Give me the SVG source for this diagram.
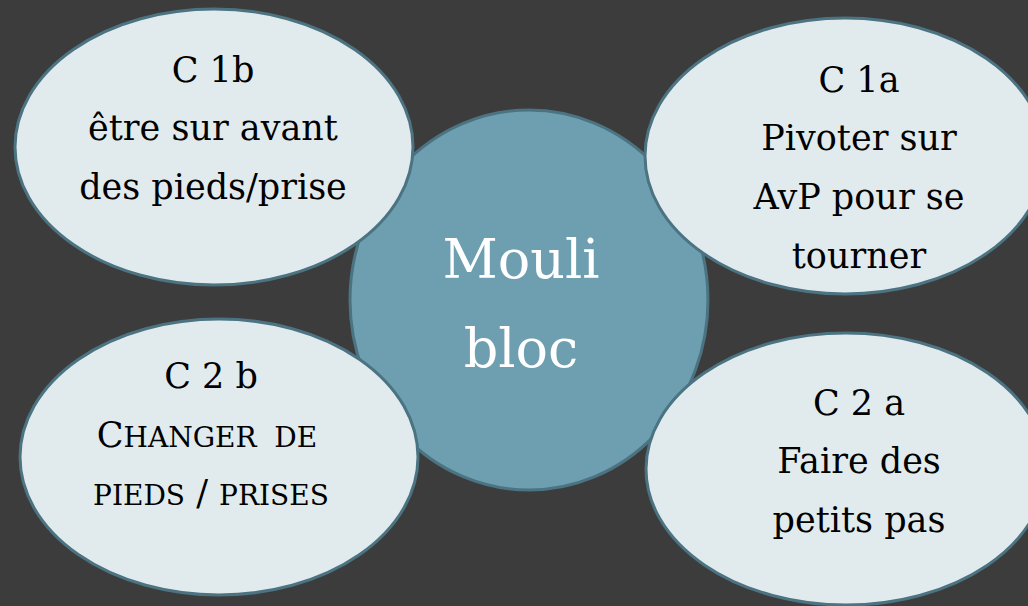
<svg xmlns="http://www.w3.org/2000/svg" width="1028" height="606" viewBox="0 0 1028 606">
<style>
.sat{fill:#e1ebee;stroke:#4b7381;stroke-width:3}
.hub{fill:#6d9fb0;stroke:#4b7381;stroke-width:3}
.t{font-family:"DejaVu Serif","Liberation Serif",serif;font-size:35px;fill:#000;text-anchor:middle}
.s{font-size:28px}
.c{font-family:"DejaVu Serif","Liberation Serif",serif;font-size:54px;fill:#fff;text-anchor:middle}
</style>
<rect width="1028" height="606" fill="#3c3c3c"/>
<g id="connectors"/>
<g id="hub">
<ellipse class="hub" cx="529" cy="300" rx="179" ry="190"/>
<text class="c" x="521" y="278">Mouli</text>
<text class="c" x="521" y="367">bloc</text>
</g>
<g id="c1b">
<ellipse class="sat" cx="214" cy="147" rx="199" ry="138"/>
<text class="t" x="213" y="82">C 1b</text>
<text class="t" x="213" y="140">être sur avant</text>
<text class="t" x="213" y="199">des pieds/prise</text>
</g>
<g id="c1a">
<ellipse class="sat" cx="845" cy="156" rx="200" ry="138"/>
<text class="t" x="859" y="92">C 1a</text>
<text class="t" x="859" y="150">Pivoter sur</text>
<text class="t" x="859" y="209">AvP pour se</text>
<text class="t" x="859" y="268">tourner</text>
</g>
<g id="c2b">
<ellipse class="sat" cx="219" cy="457" rx="199" ry="138"/>
<text class="t" x="211" y="388">C 2 b</text>
<text class="t" x="207" y="447">C<tspan class="s">HANGER&#160; DE</tspan></text>
<text class="t" x="211" y="505"><tspan class="s">PIEDS</tspan> / <tspan class="s">PRISES</tspan></text>
</g>
<g id="c2a">
<ellipse class="sat" cx="846" cy="469" rx="200" ry="136"/>
<text class="t" x="859" y="415">C 2 a</text>
<text class="t" x="859" y="473">Faire des</text>
<text class="t" x="859" y="532">petits pas</text>
</g>
</svg>
